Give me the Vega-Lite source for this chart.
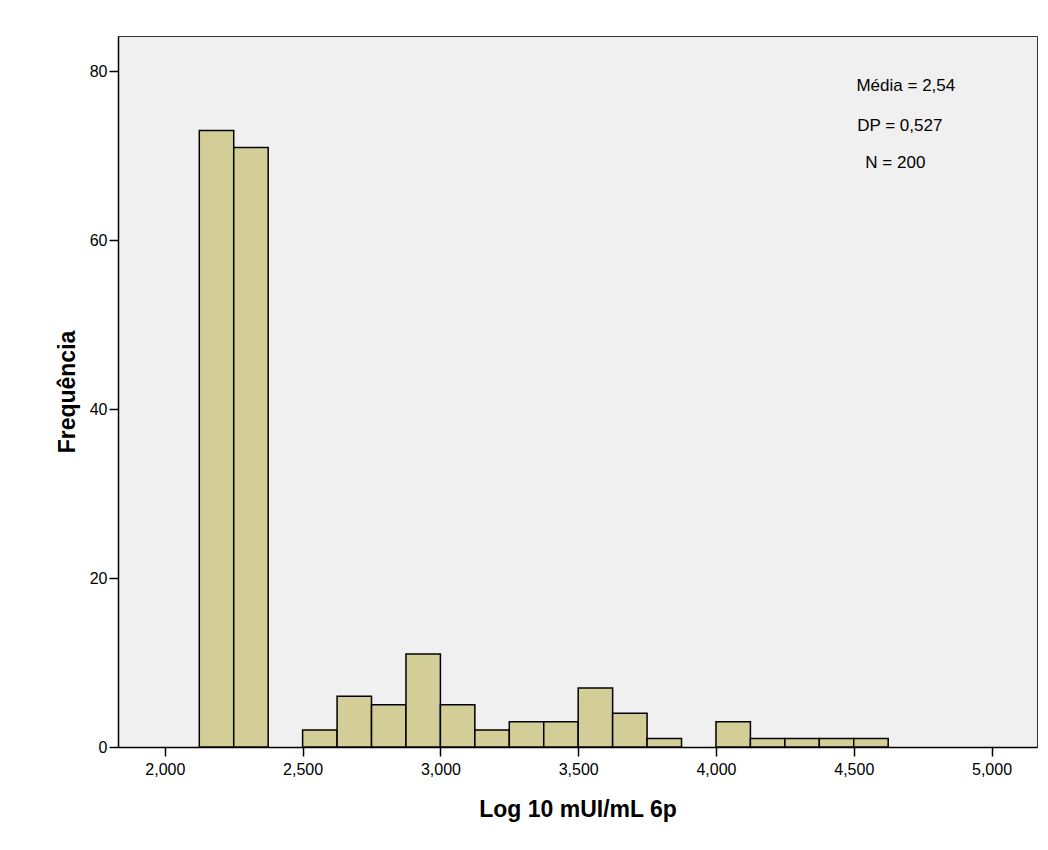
{
  "$schema": "https://vega.github.io/schema/vega-lite/v6.json",
  "width": 919,
  "height": 711,
  "autosize": "none",
  "padding": {"left": 118, "top": 36, "right": 11, "bottom": 103},
  "background": "white",
  "config": {
    "font": "Liberation Sans",
    "view": {"fill": "#f0f0f0", "stroke": "#333333", "strokeWidth": 1},
    "axis": {
      "grid": false,
      "domainColor": "black",
      "domainWidth": 1.5,
      "tickColor": "black",
      "tickWidth": 1.5,
      "tickSize": 9,
      "labelColor": "black",
      "labelFont": "Liberation Sans",
      "labelFontSize": 16,
      "titleColor": "black",
      "titleFont": "Liberation Sans",
      "titleFontWeight": "bold",
      "titleFontSize": 23
    }
  },
  "layer": [
    {
      "data": {
        "values": [
          {"bin_start": 2.125, "bin_end": 2.25, "count": 73},
          {"bin_start": 2.25, "bin_end": 2.375, "count": 71},
          {"bin_start": 2.5, "bin_end": 2.625, "count": 2},
          {"bin_start": 2.625, "bin_end": 2.75, "count": 6},
          {"bin_start": 2.75, "bin_end": 2.875, "count": 5},
          {"bin_start": 2.875, "bin_end": 3.0, "count": 11},
          {"bin_start": 3.0, "bin_end": 3.125, "count": 5},
          {"bin_start": 3.125, "bin_end": 3.25, "count": 2},
          {"bin_start": 3.25, "bin_end": 3.375, "count": 3},
          {"bin_start": 3.375, "bin_end": 3.5, "count": 3},
          {"bin_start": 3.5, "bin_end": 3.625, "count": 7},
          {"bin_start": 3.625, "bin_end": 3.75, "count": 4},
          {"bin_start": 3.75, "bin_end": 3.875, "count": 1},
          {"bin_start": 4.0, "bin_end": 4.125, "count": 3},
          {"bin_start": 4.125, "bin_end": 4.25, "count": 1},
          {"bin_start": 4.25, "bin_end": 4.375, "count": 1},
          {"bin_start": 4.375, "bin_end": 4.5, "count": 1},
          {"bin_start": 4.5, "bin_end": 4.625, "count": 1}
        ]
      },
      "mark": {"type": "rect", "fill": "#d3ce97", "stroke": "black", "strokeWidth": 1.5},
      "encoding": {
        "x": {
          "field": "bin_start",
          "type": "quantitative",
          "scale": {"domain": [1.83, 5.165], "nice": false, "zero": false},
          "axis": {
            "values": [2, 2.5, 3, 3.5, 4, 4.5, 5],
            "labelExpr": "replace(format(datum.value, '.3f'), '.', ',')",
            "labelPadding": 5,
            "title": "Log 10 mUI/mL 6p",
            "titlePadding": 21
          }
        },
        "x2": {"field": "bin_end"},
        "y": {
          "field": "count",
          "type": "quantitative",
          "scale": {"domain": [0, 84.2], "nice": false},
          "axis": {
            "values": [0, 20, 40, 60, 80],
            "labelPadding": 2,
            "title": "Frequência",
            "titlePadding": 10
          }
        },
        "y2": {"datum": 0}
      }
    },
    {
      "data": {"values": [{}]},
      "mark": {"type": "text", "text": "Média = 2,54", "fontSize": 17, "color": "black", "align": "center", "baseline": "middle"},
      "encoding": {"x": {"datum": 4.689}, "y": {"datum": 78.3}}
    },
    {
      "data": {"values": [{}]},
      "mark": {"type": "text", "text": "DP = 0,527", "fontSize": 17, "color": "black", "align": "center", "baseline": "middle"},
      "encoding": {"x": {"datum": 4.667}, "y": {"datum": 73.5}}
    },
    {
      "data": {"values": [{}]},
      "mark": {"type": "text", "text": "N = 200", "fontSize": 17, "color": "black", "align": "center", "baseline": "middle"},
      "encoding": {"x": {"datum": 4.651}, "y": {"datum": 69.2}}
    }
  ]
}
